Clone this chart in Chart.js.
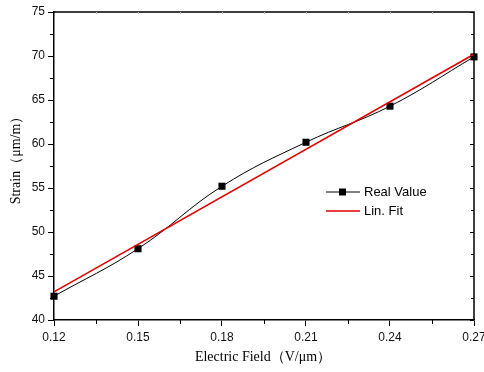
<!DOCTYPE html>
<html>
<head>
<meta charset="utf-8">
<script src="https://cdn.jsdelivr.net/npm/chart.js@4"></script>
<style>
body { margin: 0; background: #fff; }
</style>
</head>
<body>
<canvas id="chart" width="484" height="372"></canvas>
<script>
// data
const fieldX = [0.12, 0.15, 0.18, 0.21, 0.24, 0.27];
const strainY = [42.7, 48.1, 55.2, 60.2, 64.3, 69.9];
const fitX = [0.12, 0.27];
const fitY = [43.2, 70.2];
const seriesNames = ['Real Value', 'Lin. Fit'];
const xTitle = 'Electric Field（V/μm）';
const yTitle = 'Strain（μm/m）';

const realPts = fieldX.map((x, i) => ({x: x, y: strainY[i]}));
const fitPts = fitX.map((x, i) => ({x: x, y: fitY[i]}));

const serif = '"Liberation Serif", "Times New Roman", serif';
const sans = '"Liberation Sans", Arial, sans-serif';

// top/right frame, minor ticks, axis titles and the legend box
const extras = {
  id: 'extras',
  afterDraw(chart) {
    const ctx = chart.ctx;
    const a = chart.chartArea;
    const xs = chart.scales.x, ys = chart.scales.y;
    ctx.save();
    ctx.strokeStyle = '#000';
    ctx.lineWidth = 1.5;
    ctx.beginPath();
    ctx.moveTo(a.left, a.top);
    ctx.lineTo(a.right, a.top);
    ctx.lineTo(a.right, a.bottom);
    ctx.stroke();

    ctx.lineWidth = 1;
    // minor ticks outward on bottom/left, inward on right
    for (let i = 0; i < 5; i++) {
      const v = 0.135 + i * 0.03;
      const px = Math.round(xs.getPixelForValue(v)) + 0.5;
      ctx.beginPath(); ctx.moveTo(px, a.bottom); ctx.lineTo(px, a.bottom + 4); ctx.stroke();
    }
    for (let i = 0; i <= 14; i++) {
      const v = 40 + i * 2.5;
      const py = Math.round(ys.getPixelForValue(v)) + 0.5;
      const major = i % 2 === 0;
      if (!major) {
        ctx.beginPath(); ctx.moveTo(a.left - 4, py); ctx.lineTo(a.left, py); ctx.stroke();
      }
      ctx.beginPath(); ctx.moveTo(a.right - (major ? 4 : 3), py); ctx.lineTo(a.right, py); ctx.stroke();
    }
    // faint top ticks
    ctx.strokeStyle = '#bbb';
    for (let i = 1; i < 10; i++) {
      const v = 0.12 + i * 0.015;
      const px = Math.round(xs.getPixelForValue(v)) + 0.5;
      ctx.beginPath(); ctx.moveTo(px, a.top); ctx.lineTo(px, a.top + 2); ctx.stroke();
    }

    // axis titles
    ctx.fillStyle = '#000';
    ctx.font = '14px ' + serif;
    ctx.textAlign = 'center';
    ctx.textBaseline = 'middle';
    ctx.fillText(xTitle, 263, 357);
    ctx.save();
    ctx.translate(16, 157);
    ctx.rotate(-Math.PI / 2);
    ctx.fillText(yTitle, 0, 0);
    ctx.restore();

    // legend
    const lx = 326, ly = 192;
    ctx.strokeStyle = '#000';
    ctx.lineWidth = 1;
    ctx.beginPath(); ctx.moveTo(lx, ly); ctx.lineTo(lx + 34, ly); ctx.stroke();
    ctx.fillStyle = '#000';
    ctx.fillRect(lx + 13, ly - 3.5, 7, 7);
    ctx.strokeStyle = '#e00000';
    ctx.lineWidth = 1.5;
    ctx.beginPath(); ctx.moveTo(lx, ly + 19); ctx.lineTo(lx + 34, ly + 19); ctx.stroke();
    ctx.font = '13px ' + sans;
    ctx.textAlign = 'left';
    ctx.fillText(seriesNames[0], lx + 38, ly + 0.5);
    ctx.fillText(seriesNames[1], lx + 38, ly + 19.5);
    ctx.restore();
  }
};

const ctx = document.getElementById('chart').getContext('2d');

const myChart = new Chart(ctx, {
  type: 'scatter',
  data: {
    datasets: [{
      label: seriesNames[0],
      data: realPts,
      showLine: true,
      tension: 0.4,
      borderColor: '#000',
      borderWidth: 1,
      pointStyle: 'rect',
      pointRadius: 5,
      pointBackgroundColor: '#000',
      pointBorderWidth: 0,
      clip: false,
      order: 1
    }, {
      label: seriesNames[1],
      data: fitPts,
      showLine: true,
      borderColor: '#e00000',
      borderWidth: 1.6,
      pointRadius: 0,
      clip: false,
      order: 0
    }]
  },
  options: {
    responsive: false,
    animation: false,
    layout: { padding: { top: 12, right: 10, left: 0, bottom: 0 } },
    plugins: {
      legend: { display: false },
      tooltip: { enabled: false }
    },
    scales: {
      x: {
        type: 'linear',
        min: 0.12,
        max: 0.27,
        afterBuildTicks: (s) => { s.ticks = fieldX.map(v => ({value: v})); },
        afterFit: (s) => { s.height = 52; s.paddingRight = 0; s.paddingLeft = 0; },
        border: { color: '#000', width: 1.5 },
        grid: { drawOnChartArea: false, tickLength: 6, color: '#000' },
        ticks: {
          color: '#111',
          padding: 4,
          maxRotation: 0,
          font: { family: sans, size: 12 },
          callback: (v) => v.toFixed(2)
        }
      },
      y: {
        min: 40,
        max: 75,
        afterFit: (s) => { s.width = 54; s.paddingTop = 0; s.paddingBottom = 0; },
        border: { color: '#000', width: 1.5 },
        grid: { drawOnChartArea: false, tickLength: 6, color: '#000' },
        ticks: {
          stepSize: 5,
          color: '#111',
          padding: 3,
          font: { family: sans, size: 12 }
        }
      }
    }
  },
  plugins: [extras]
});
</script>
</body>
</html>
